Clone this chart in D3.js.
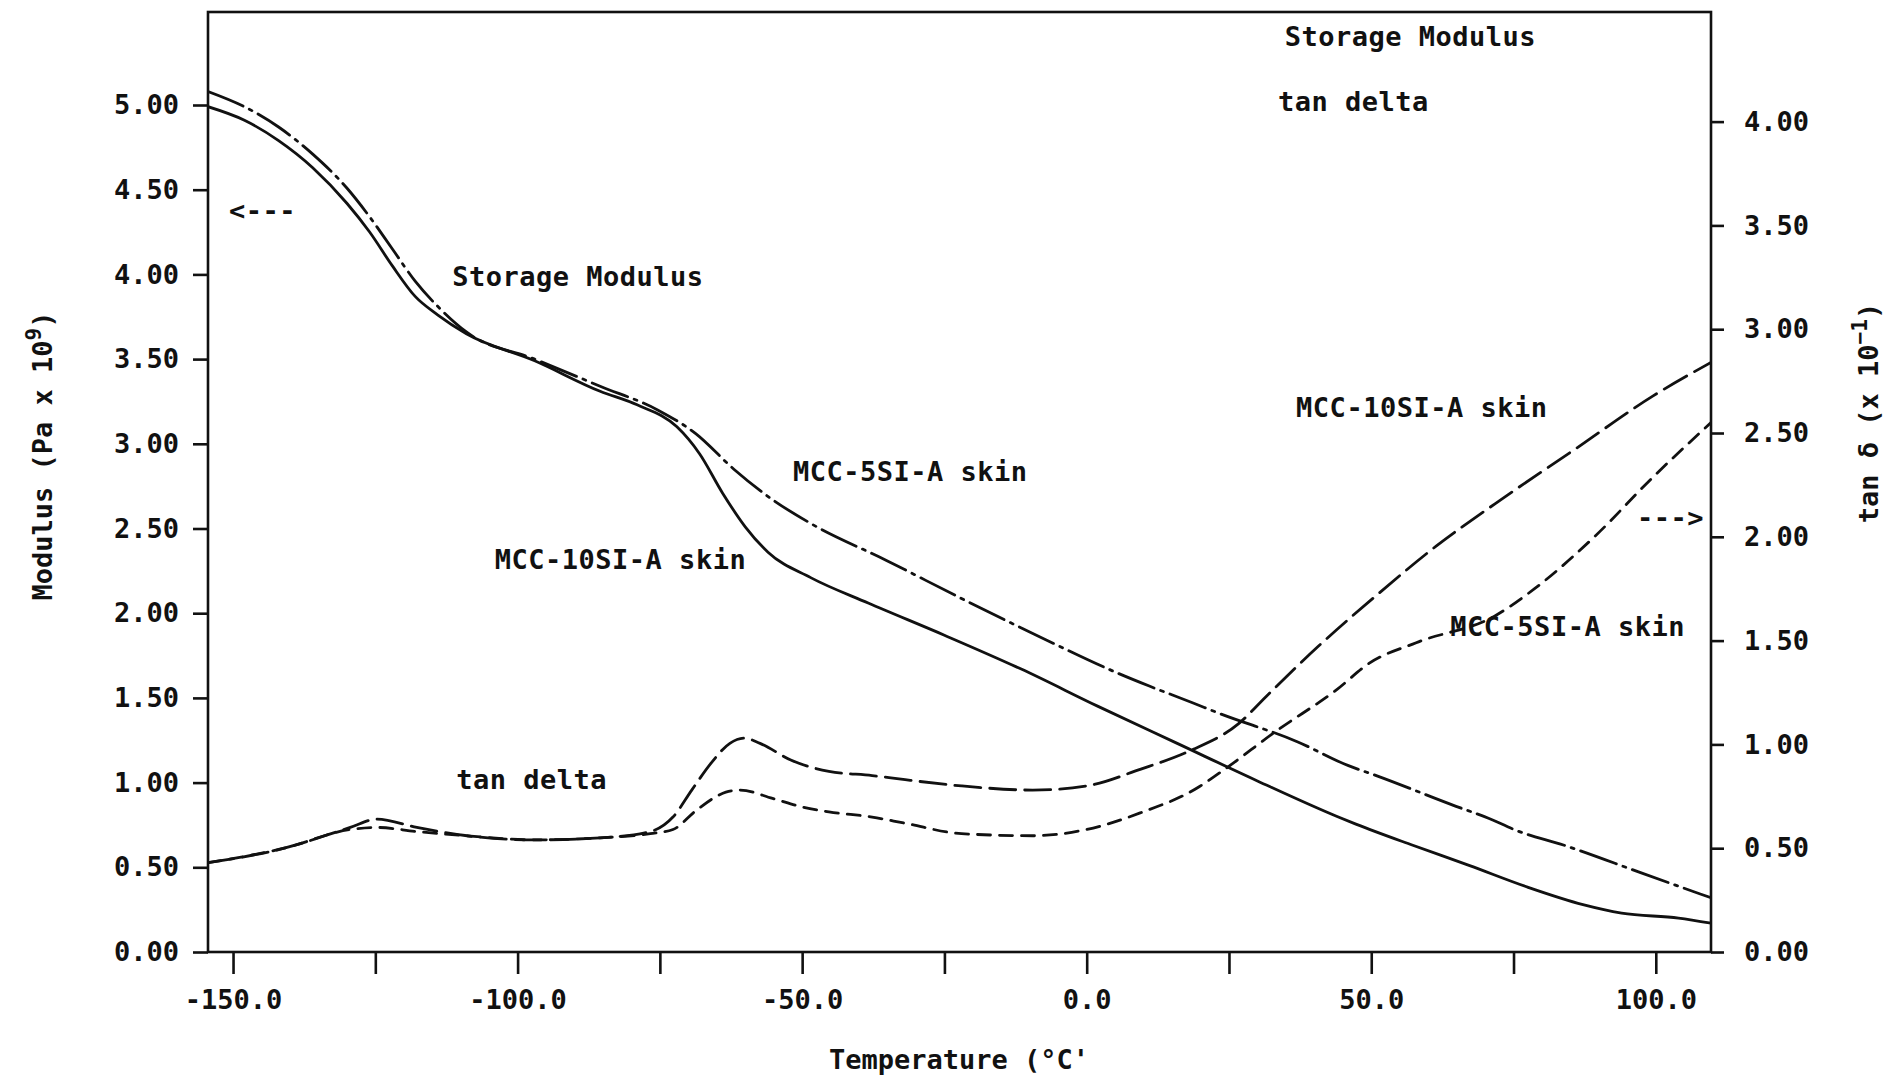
<!DOCTYPE html>
<meta charset="utf-8">
<style>

body { margin: 0; background: #fff; }
text { font-family: "DejaVu Sans Mono", monospace; font-weight: bold; fill: #111; }
.curve { fill: none; stroke: #111; stroke-width: 2.8; stroke-linecap: round; }
.tick line { stroke: #111; stroke-width: 2.6; }
.frame { fill: none; stroke: #111; stroke-width: 2.6; }
.note { letter-spacing: 0.5px; }

</style>
<body>

<!-- load the d3.js library -->
<script src="https://d3js.org/d3.v7.min.js"></script>
<script>

// storage modulus, MCC-10SI-A skin (solid line, left axis)
var tempE10 = [-154.4, -148, -142, -136, -130, -126, -122, -118, -114, -109, -97, -85.5, -79, -72, -68, -64, -60, -56, -48.5, -38.4, -25, -11.5, 2, 16, 30, 44, 47.3, 57.3, 67.3, 77.3, 87.2, 94, 104, 109.7];
var modE10  = [4.99, 4.91, 4.79, 4.63, 4.42, 4.25, 4.05, 3.87, 3.76, 3.65, 3.49, 3.31, 3.23, 3.10, 2.94, 2.71, 2.51, 2.36, 2.21, 2.06, 1.87, 1.67, 1.45, 1.23, 1.01, 0.80, 0.755, 0.63, 0.51, 0.385, 0.28, 0.23, 0.20, 0.17];

// storage modulus, MCC-5SI-A skin (dash-dot line, left axis)
var tempE5 = [-154.4, -148, -142, -136, -130, -126, -122, -118, -114, -109, -97, -85.5, -75.4, -68.7, -62, -55.2, -48.5, -35.1, -21.6, -8.2, 5.2, 11, 18.7, 23.2, 37.1, 46, 51, 64.9, 70.6, 75.3, 83.9, 97.2, 109.7];
var modE5  = [5.08, 4.99, 4.87, 4.71, 4.51, 4.34, 4.15, 3.96, 3.81, 3.66, 3.50, 3.34, 3.20, 3.06, 2.85, 2.67, 2.53, 2.31, 2.08, 1.86, 1.65, 1.57, 1.47, 1.41, 1.24, 1.10, 1.04, 0.86, 0.79, 0.72, 0.63, 0.47, 0.32];

// tan delta, MCC-10SI-A skin (long dashes, right axis)
var tempT10 = [-154.4, -141, -129.4, -124.7, -117.7, -108.9, -97.2, -85.5, -76.7, -72.7, -69.4, -66, -62.7, -60.2, -57.4, -52, -45.3, -37.7, -31.9, -22, -9.5, 0, 9.4, 18.2, 26.7, 31.5, 40.6, 51, 61.4, 71.8, 85.7, 99.6, 109.7];
var tanT10  = [0.43, 0.50, 0.60, 0.64, 0.60, 0.56, 0.54, 0.55, 0.58, 0.65, 0.78, 0.91, 1.005, 1.03, 1.005, 0.925, 0.87, 0.85, 0.83, 0.80, 0.78, 0.80, 0.88, 0.97, 1.10, 1.23, 1.47, 1.72, 1.955, 2.16, 2.42, 2.68, 2.84];

// tan delta, MCC-5SI-A skin (short dashes, right axis)
var tempT5 = [-154.4, -141, -129.4, -124.7, -117.7, -108.9, -97.2, -85.5, -76.7, -72.7, -68.7, -65, -63.4, -60.9, -55.2, -50.2, -45.3, -37.7, -31.9, -22, -9.5, 0, 9.4, 19.4, 23.2, 33.6, 44, 49.6, 57.9, 71.8, 78.7, 89.2, 99.6, 109.7];
var tanT5  = [0.43, 0.50, 0.59, 0.60, 0.58, 0.56, 0.54, 0.55, 0.57, 0.59, 0.68, 0.75, 0.77, 0.78, 0.74, 0.70, 0.675, 0.65, 0.62, 0.57, 0.56, 0.59, 0.67, 0.79, 0.86, 1.07, 1.265, 1.39, 1.49, 1.62, 1.75, 2.00, 2.29, 2.55];

// tick values
var xTicks = [-150, -125, -100, -75, -50, -25, 0, 25, 50, 75, 100];
var leftTicks = [0, 0.5, 1, 1.5, 2, 2.5, 3, 3.5, 4, 4.5, 5];
var rightTicks = [0, 0.5, 1, 1.5, 2, 2.5, 3, 3.5, 4];

// text labels placed at (temperature, modulus)
var noteText = ["Storage Modulus", "tan delta", "Storage Modulus", "MCC-5SI-A skin", "MCC-10SI-A skin", "tan delta", "MCC-10SI-A skin", "MCC-5SI-A skin", "<---", "--->"];
var noteTemp = [34.8, 33.6, -111.5, -51.6, -104.0, -110.8, 36.8, 63.9, -150.7, 96.7];
var noteMod  = [5.35, 4.965, 3.93, 2.78, 2.26, 0.96, 3.158, 1.865, 4.32, 2.51];

// set the dimensions and margins of the graph
var margin = {top: 12, right: 176, bottom: 125, left: 208},
    width = 1887 - margin.left - margin.right,
    height = 1077 - margin.top - margin.bottom;

// set the ranges
var x = d3.scaleLinear().domain([-154.4, 109.7]).range([0, width]);
var yLeft = d3.scaleLinear().domain([0, 5.549]).range([height, 0]);
var yRight = d3.scaleLinear().domain([0, 4.528]).range([height, 0]);

var svg = d3.select("body").append("svg")
    .attr("width", 1887)
    .attr("height", 1077)
  .append("g")
    .attr("transform", "translate(" + margin.left + "," + margin.top + ")");

svg.append("clipPath").attr("id", "plot")
  .append("rect").attr("width", width).attr("height", height);

function series(temps, vals) {
  return temps.map(function(t, i) { return [t, vals[i]]; });
}

function lineFor(yScale) {
  return d3.line()
      .curve(d3.curveMonotoneX)
      .x(function(d) { return x(d[0]); })
      .y(function(d) { return yScale(d[1]); });
}

var curves = [
  {pts: series(tempE10, modE10), y: yLeft, dash: null},
  {pts: series(tempE5, modE5), y: yLeft, dash: "38,7,3,7"},
  {pts: series(tempT10, tanT10), y: yRight, dash: "26,9"},
  {pts: series(tempT5, tanT5), y: yRight, dash: "13,9"}
];

svg.append("g").attr("clip-path", "url(#plot)")
  .selectAll("path")
    .data(curves)
  .enter().append("path")
    .attr("class", "curve")
    .attr("stroke-dasharray", function(d) { return d.dash; })
    .attr("d", function(d) { return lineFor(d.y)(d.pts); });

// plot frame
svg.append("rect")
    .attr("class", "frame")
    .attr("width", width)
    .attr("height", height);

function styleAxis(g) {
  g.select(".domain").remove();
  g.selectAll("text")
      .attr("font-size", 27)
      .attr("font-family", "DejaVu Sans Mono, monospace")
      .attr("font-weight", "bold")
      .style("fill", "#111");
}

// x axis
svg.append("g")
    .attr("transform", "translate(0," + height + ")")
    .call(d3.axisBottom(x)
        .tickValues(xTicks)
        .tickSize(22)
        .tickPadding(16)
        .tickFormat(function(d) { return d % 50 === 0 ? d.toFixed(1) : ""; }))
    .call(styleAxis);

// left axis
svg.append("g")
    .call(d3.axisLeft(yLeft)
        .tickValues(leftTicks)
        .tickSize(15)
        .tickPadding(14)
        .tickFormat(function(d) { return d.toFixed(2); }))
    .call(styleAxis);

// right axis
svg.append("g")
    .attr("transform", "translate(" + width + ",0)")
    .call(d3.axisRight(yRight)
        .tickValues(rightTicks)
        .tickSize(13)
        .tickPadding(20)
        .tickFormat(function(d) { return d.toFixed(2); }))
    .call(styleAxis);

// annotations
svg.selectAll(".note")
    .data(noteText)
  .enter().append("text")
    .attr("class", "note")
    .attr("font-size", 27)
    .attr("x", function(d, i) { return x(noteTemp[i]); })
    .attr("y", function(d, i) { return yLeft(noteMod[i]); })
    .text(function(d) { return d; });

// axis titles
svg.append("text")
    .attr("font-size", 27)
    .attr("text-anchor", "middle")
    .attr("x", 751)
    .attr("y", 1057)
    .text("Temperature (°C'");

var lt = svg.append("text")
    .attr("font-size", 27)
    .attr("text-anchor", "middle")
    .attr("transform", "translate(-156,444) rotate(-90)");
lt.append("tspan").text("Modulus (Pa x 10");
lt.append("tspan").attr("font-size", 21).attr("dy", -11).text("9");
lt.append("tspan").attr("dy", 11).text(")");

var rt = svg.append("text")
    .attr("font-size", 27)
    .attr("text-anchor", "middle")
    .attr("transform", "translate(1670,401) rotate(-90)");
rt.append("tspan").text("tan δ (x 10");
rt.append("tspan").attr("font-size", 21).attr("dy", -11).text("−1");
rt.append("tspan").attr("dy", 11).text(")");

</script>
</body>
